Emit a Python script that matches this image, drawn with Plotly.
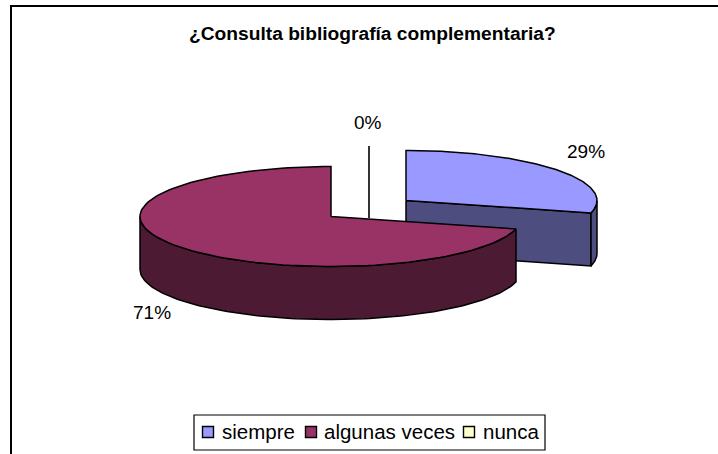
import numpy as np
import plotly.graph_objects as go

# ---- data ----
categories = ["siempre", "algunas veces", "nunca"]
values = [29, 71, 0]
pct_labels = ["29%", "71%", "0%"]
title_text = "¿Consulta bibliografía complementaria?"

top_colors = ["#9999FF", "#993366", "#FFFFCC"]
side_colors = ["#4D4D80", "#4D1A33", "#80805F"]

W, H = 718, 454
RX, RY, DEPTH = 191, 50, 53
centers = [(406, 200.5), (331, 216.5)]
label_pos = [(586, 151.5), (152, 312.5), (368, 122.5)]


def rim(cx, cy, a0, a1, dy=0.0, n=120):
    a = np.radians(np.linspace(a0, a1, n))
    return cx + RX * np.sin(a), cy + dy - RY * np.cos(a)


fig = go.Figure()


def poly(x, y, fill):
    fig.add_trace(go.Scatter(x=np.asarray(x), y=np.asarray(y), mode="lines", fill="toself",
                             fillcolor=fill, line=dict(color="black", width=1.5),
                             hoverinfo="skip", showlegend=False))


total = sum(values)
start = 0.0
spans = []
for v in values:
    spans.append((start, start + 360.0 * v / total))
    start = spans[-1][1]

# slice 0 (exploded, drawn first): cut face, rim face, top
a0, a1 = spans[0]
cx, cy = centers[0]
ex, ey = rim(cx, cy, a1, a1, n=1)
poly([cx, ex[0], ex[0], cx, cx], [cy, ey[0], ey[0] + DEPTH, cy + DEPTH, cy], side_colors[0])
rx, ry = rim(cx, cy, 90, a1)
rbx, rby = rim(cx, cy, a1, 90, DEPTH)
poly(np.r_[rx, rbx, rx[0]], np.r_[ry, rby, ry[0]], side_colors[0])
tx, ty = rim(cx, cy, a0, a1)
poly(np.r_[cx, tx, cx], np.r_[cy, ty, cy], top_colors[0])

# slice 1: front rim face, top
a0, a1 = spans[1]
cx, cy = centers[1]
rx, ry = rim(cx, cy, a0, 270)
rbx, rby = rim(cx, cy, 270, a0, DEPTH)
poly(np.r_[rx, rbx, rx[0]], np.r_[ry, rby, ry[0]], side_colors[1])
tx, ty = rim(cx, cy, a0, a1)
poly(np.r_[cx, tx, cx], np.r_[cy, ty, cy], top_colors[1])

# slice 2: zero-width slice seen as a vertical edge
fig.add_trace(go.Scatter(x=[369, 369], y=[146, 218], mode="lines",
                         line=dict(color="black", width=1.6), hoverinfo="skip", showlegend=False))

# percentage labels
for (lx, ly), t in zip(label_pos, pct_labels):
    fig.add_annotation(x=lx, y=ly, text=t, showarrow=False,
                       font=dict(family="Liberation Sans, Arial", size=19, color="black"))

# legend
swatch_x = [208, 311, 469]
text_x = [221, 323, 482]
fig.add_trace(go.Scatter(x=swatch_x, y=[432, 432, 432], mode="markers",
                         marker=dict(symbol="square", size=11, color=top_colors,
                                     line=dict(color="black", width=1.4)),
                         hoverinfo="skip", showlegend=False))
for tx_, c in zip(text_x, categories):
    fig.add_annotation(x=tx_, y=431.5, text=c, showarrow=False, xanchor="left", xshift=-1,
                       font=dict(family="Liberation Sans, Arial", size=20.5, color="black"))

fig.add_shape(type="rect", x0=194, x1=545, y0=415, y1=450, line=dict(color="black", width=1.2),
              fillcolor="white", layer="below")
fig.add_shape(type="rect", x0=11, x1=740, y0=6, y1=480, line=dict(color="black", width=2),
              fillcolor="rgba(0,0,0,0)", layer="below")

fig.add_annotation(x=372, y=33, text="<b>%s</b>" % title_text, showarrow=False,
                   font=dict(family="Liberation Sans, Arial", size=19.2, color="black"))

fig.update_layout(width=W, height=H, margin=dict(l=0, r=0, t=0, b=0), paper_bgcolor="white",
                  plot_bgcolor="white", showlegend=False,
                  xaxis=dict(range=[0, W], visible=False, fixedrange=True),
                  yaxis=dict(range=[H, 0], visible=False, fixedrange=True))
fig.write_html("out.html", config={"displayModeBar": False},
               post_script="document.body.style.margin='0';document.body.style.overflow='hidden';")
